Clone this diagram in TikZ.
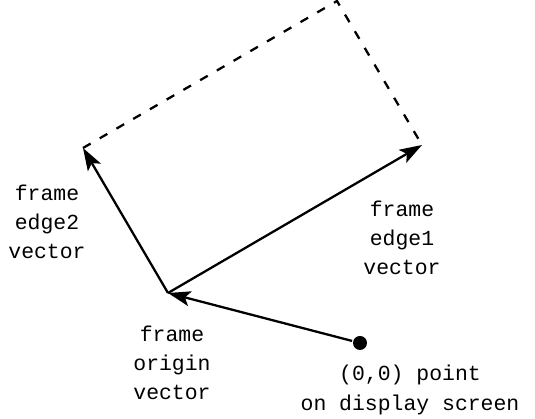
\documentclass[tikz,border=0pt]{standalone}
\usepackage{fontspec}
\setmonofont{Liberation Mono}
\usetikzlibrary{arrows.meta}

\begin{document}
\begin{tikzpicture}[line width=1.3pt, >={Stealth[length=4.5mm,width=3mm,inset=1mm]},
    label node/.style={align=center,font=\ttfamily\fontsize{12.2}{16.6}\selectfont},
    dot node/.style={circle,fill,inner sep=0pt,minimum size=0.28cm}]
      \useasboundingbox (0,0) rectangle (10.7,8.38);

      \node[dot node] (0) at (7.2,1.52) {};
      \coordinate (1) at (3.36,2.52);
      \coordinate (2) at (8.44,5.48);
      \coordinate (3) at (1.66,5.42);
      \coordinate (4) at (6.74,8.36);

      \draw[->] (0) -- (1);
      \draw[->] (1) -- (2);
      \draw[->] (1) -- (3);
      \draw[dash pattern=on 5pt off 6pt] (3) -- (4) -- (2);

      \node[label node] at (0.94,3.94) {frame\\edge2\\vector};
      \node[label node] at (8.04,3.62) {frame\\edge1\\vector};
      \node[label node] at (3.44,1.12) {frame\\origin\\vector};
      \node[label node] at (8.2,0.58) {(0,0) point\\on display screen};

    \end{tikzpicture}
\end{document}
